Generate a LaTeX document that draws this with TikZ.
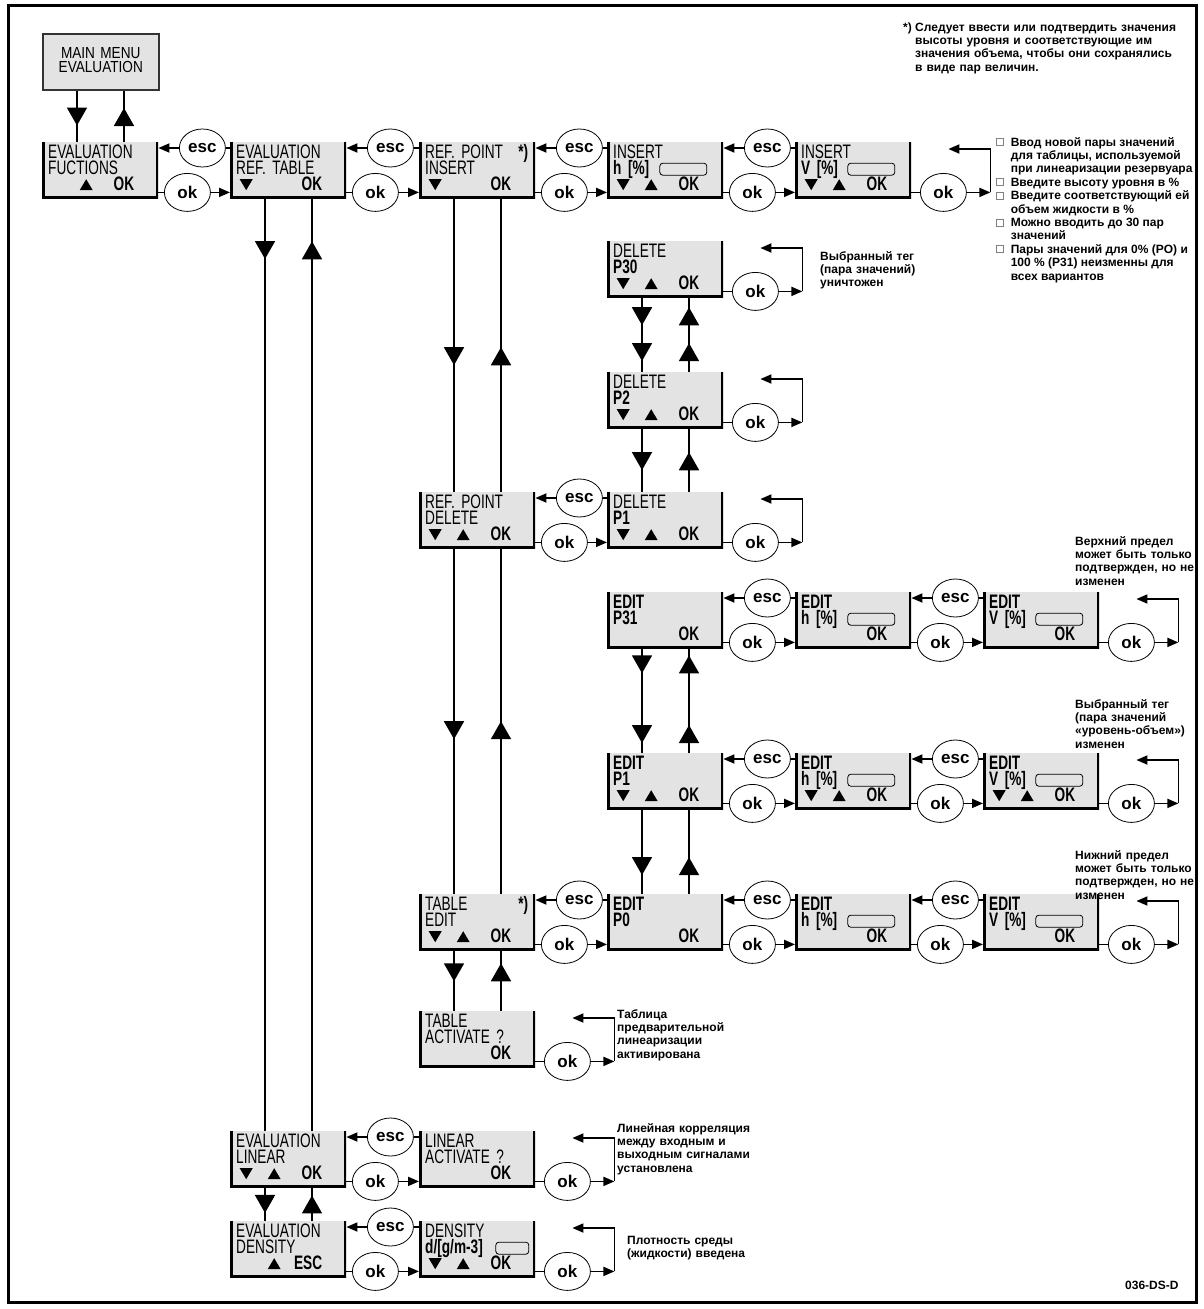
\documentclass[tikz,border=0pt]{standalone}
\usepackage{fontspec}
\setmainfont{Liberation Sans}
\newfontfamily\lcdfamily[FakeStretch=0.7]{Liberation Sans}
\newfontfamily\menufamily[FakeStretch=0.85]{Liberation Sans}
\usetikzlibrary{arrows.meta,calc,positioning,shapes.geometric,decorations.markings}
\definecolor{lcdgray}{gray}{0.89}

% keys and input field shown in the display boxes
\newcommand\keydn{\tikz[baseline=0pt]\fill (0pt,11pt) -- (13pt,11pt) -- (6.5pt,0pt) -- cycle;}
\newcommand\keyup{\tikz[baseline=0pt]\fill (0pt,0pt) -- (13pt,0pt) -- (6.5pt,11pt) -- cycle;}
\newcommand\bothkeys{\hspace*{3.5pt}\keydn\hspace{15pt}\keyup}
\newcommand\onlyup{\hspace*{31.5pt}\keyup}
\newcommand\onlydn{\hspace*{3.5pt}\keydn}
\newcommand\keyline[2]{\makebox[86pt][l]{#1\hfill\textbf{#2}}}
\newcommand\inputfield[1][47pt]{\tikz[baseline=0pt]\draw[line width=0.8pt,rounded corners=3pt] (0pt,-1pt) rectangle (#1,11pt);}
\newcommand\fieldline[1]{\makebox[94pt][l]{\textbf{#1}\hfill\inputfield}}
\newcommand\starline[1]{\makebox[103pt][l]{#1\hfill\textbf{*)}}}
\newcommand\sqbullet{\tikz[baseline=-0.5pt]\draw[gray,line width=0.6pt] (0pt,0pt) rectangle (7pt,7pt);}

\begin{document}
\begin{tikzpicture}[x=1pt,y=-1pt,
  lcd/.style={anchor=north west, fill=lcdgray, text width=104pt, inner xsep=6pt, inner ysep=0pt,
    text height=16pt, text depth=40pt, align=left,
    font={\lcdfamily\fontsize{19.5pt}{16pt}\selectfont\lineskiplimit=-50pt},
    path picture={\draw[line width=5pt] (path picture bounding box.north west) -- (path picture bounding box.south west)
      -- (path picture bounding box.south east) -- (path picture bounding box.north east);}},
  btn/.style={ellipse, draw, line width=0.8pt, fill=white, minimum width=46pt, minimum height=38pt,
    inner sep=0pt, font={\bfseries\fontsize{17pt}{17pt}\selectfont}},
  conn/.style={line width=1.8pt},
  flow/.style={conn, -{Triangle[length=11pt,width=9pt]}},
  tri/.style={postaction={decorate, decoration={markings,
    mark=at position #1 with {\arrow{Triangle[length=18pt,width=20pt]}}}}},
  note/.style={anchor=base west, align=left, text width=200pt, inner sep=0pt,
    font={\bfseries\fontsize{12pt}{13.4pt}\selectfont}}]
  \useasboundingbox (0,0) rectangle (1203,1309);
  % frame
  \draw[line width=3pt] (8,5) rectangle (1196.5,1302);

  % main menu
  \node[draw=black!80, line width=1.5pt, fill=lcdgray, anchor=north west, text width=104pt,
    inner xsep=6pt, inner ysep=0pt, text height=24.5pt, text depth=31.5pt, align=center,
    font={\menufamily\fontsize{16pt}{14pt}\selectfont}] (mainmenu) at (42,33) {MAIN MENU\\EVALUATION};

  % first row
  \node[lcd] (funcs) at (42,142) {EVALUATION\\FUCTIONS\\\keyline{\onlyup}{OK}};
  \node[lcd] (reftab) at (230,142) {EVALUATION\\REF. TABLE\\\keyline{\onlydn}{OK}};
  \node[lcd] (rpins) at (419,142) {\starline{REF. POINT}\\INSERT\\\keyline{\onlydn}{OK}};
  \node[lcd] (insh) at (607,142) {INSERT\\\fieldline{h [\%]}\\\keyline{\bothkeys}{OK}};
  \node[lcd] (insv) at (795,142) {INSERT\\\fieldline{V [\%]}\\\keyline{\bothkeys}{OK}};

  % delete column
  \node[lcd] (del30) at (607,241) {DELETE\\\textbf{P30}\\\keyline{\bothkeys}{OK}};
  \node[lcd] (del2) at (607,372) {DELETE\\\textbf{P2}\\\keyline{\bothkeys}{OK}};
  \node[lcd] (rpdel) at (419,492) {REF. POINT\\DELETE\\\keyline{\bothkeys}{OK}};
  \node[lcd] (del1) at (607,492) {DELETE\\\textbf{P1}\\\keyline{\bothkeys}{OK}};

  % edit rows
  \node[lcd] (ed31) at (607,592) {\textbf{EDIT}\\\textbf{P31}\\\keyline{}{OK}};
  \node[lcd] (ed31h) at (795,592) {\textbf{EDIT}\\\fieldline{h [\%]}\\\keyline{}{OK}};
  \node[lcd] (ed31v) at (983,592) {\textbf{EDIT}\\\fieldline{V [\%]}\\\keyline{}{OK}};
  \node[lcd] (ed1) at (607,753) {\textbf{EDIT}\\\textbf{P1}\\\keyline{\bothkeys}{OK}};
  \node[lcd] (ed1h) at (795,753) {\textbf{EDIT}\\\fieldline{h [\%]}\\\keyline{\bothkeys}{OK}};
  \node[lcd] (ed1v) at (983,753) {\textbf{EDIT}\\\fieldline{V [\%]}\\\keyline{\bothkeys}{OK}};
  \node[lcd] (tabed) at (419,894) {\starline{TABLE}\\EDIT\\\keyline{\bothkeys}{OK}};
  \node[lcd] (ed0) at (607,894) {\textbf{EDIT}\\\textbf{P0}\\\keyline{}{OK}};
  \node[lcd] (ed0h) at (795,894) {\textbf{EDIT}\\\fieldline{h [\%]}\\\keyline{}{OK}};
  \node[lcd] (ed0v) at (983,894) {\textbf{EDIT}\\\fieldline{V [\%]}\\\keyline{}{OK}};
  \node[lcd] (tabact) at (419,1011) {TABLE\\ACTIVATE ?\\\keyline{}{OK}};

  % linear and density
  \node[lcd] (evlin) at (230,1131) {EVALUATION\\LINEAR\\\keyline{\bothkeys}{OK}};
  \node[lcd] (linact) at (419,1131) {LINEAR\\ACTIVATE ?\\\keyline{}{OK}};
  \node[lcd] (evden) at (230,1221) {EVALUATION\\DENSITY\\\keyline{\onlyup}{ESC}};
  \node[lcd] (den) at (419,1221) {DENSITY\\\makebox[104pt][l]{\textbf{d/[g/m-3]}\hfill\inputfield[33pt]}\\\keyline{\bothkeys}{OK}};

  % esc and ok between neighbours
  \foreach \src/\dst in {funcs/reftab, reftab/rpins, rpins/insh, insh/insv, rpdel/del1,
      ed31/ed31h, ed31h/ed31v, ed1/ed1h, ed1h/ed1v, tabed/ed0, ed0/ed0h, ed0h/ed0v,
      evlin/linact, evden/den} {
    \node[btn] (esc-\dst) at ([xshift=44pt,yshift=-6pt]\src.north east) {esc};
    \node[btn] (okto-\dst) at ([xshift=29pt,yshift=6pt]\src.south east) {ok};
    \draw[flow] (esc-\dst.west) -- (esc-\dst.west -| \src.east);
    \draw[conn] (esc-\dst.east) -- (esc-\dst.east -| \dst.west);
    \draw[conn] (okto-\dst.west -| \src.east) -- (okto-\dst.west);
    \draw[flow] (okto-\dst.east) -- (okto-\dst.east -| \dst.west);
  }

  % ok loops that confirm a value
  \foreach \src in {insv, del30, del2, del1, ed31v, ed1v, ed0v, tabact, linact, den} {
    \node[btn] (okloop-\src) at ([xshift=32pt,yshift=6pt]\src.south east) {ok};
    \coordinate (turn-\src) at ([xshift=79pt,yshift=-7pt]\src.north east);
    \coordinate (back-\src) at ([xshift=37pt,yshift=-7pt]\src.north east);
    \draw[conn] (\src.east |- okloop-\src.west) -- (okloop-\src.west);
    \draw[flow] (okloop-\src.east) -- (okloop-\src.east -| turn-\src);
    \draw[flow] (okloop-\src.east -| turn-\src) -- (turn-\src) -- (back-\src);
  }

  % up and down between menu levels
  \foreach \src/\dst/\p/\q in {mainmenu/funcs/0.68/0.66, reftab/evlin/0.065/0.954,
      evlin/evden/0.76/0.76, rpins/rpdel/0.568/0.493, rpdel/tabed/0.552/0.5,
      tabed/tabact/0.51/0.787, del2/del1/0.656/0.625, ed1/ed0/0.776/0.435} {
    \draw[conn, tri=\p] ([xshift=35pt]\src.south west) -- ([xshift=35pt]\dst.north west);
    \draw[conn, tri=\q] ([xshift=82pt]\dst.north west) -- ([xshift=82pt]\src.south west);
  }
  \draw[conn, tri=0.373, tri=0.853] ([xshift=35pt]del30.south west) -- ([xshift=35pt]del2.north west);
  \draw[conn, tri=0.387, tri=0.867] ([xshift=82pt]del2.north west) -- ([xshift=82pt]del30.south west);
  \draw[conn, tri=0.238, tri=0.905] ([xshift=35pt]ed31.south west) -- ([xshift=35pt]ed1.north west);
  \draw[conn, tri=0.267, tri=0.933] ([xshift=82pt]ed1.north west) -- ([xshift=82pt]ed31.south west);

  % notes
  \node[note, text width=12pt] (fnmark) at (903,31) {*)};
  \node[note, text width=280pt] (fntext) at (915,31) {Следует ввести или подтвердить значения\\
    высоты уровня и соответствующие им\\значения объема, чтобы они сохранялись\\в виде пар величин.};
  \node[anchor=base west, inner sep=0pt, font={\bfseries\fontsize{12pt}{13.4pt}\selectfont}] (insnote) at (996,146)
    {\begin{tabular}[t]{@{}l@{\hspace{7pt}}l@{}}
      \sqbullet & Ввод новой пары значений\\
       & для таблицы, используемой\\
       & при линеаризации резервуара\\
      \sqbullet & Введите высоту уровня в \%\\
      \sqbullet & Введите соответствующий ей\\
       & объем жидкости в \%\\
      \sqbullet & Можно вводить до 30 пар\\
       & значений\\
      \sqbullet & Пары значений для 0\% (PO) и\\
       & 100 \% (P31) неизменны для\\
       & всех вариантов
    \end{tabular}};
  \node[note] (delnote) at (820,260) {Выбранный тег\\(пара значений)\\уничтожен};
  \node[note] (topnote) at (1075,545) {Верхний предел\\может быть только\\подтвержден, но не\\изменен};
  \node[note] (editnote) at (1075,708) {Выбранный тег\\(пара значений\\«уровень-объем»)\\изменен};
  \node[note] (lownote) at (1075,859) {Нижний предел\\может быть только\\подтвержден, но не\\изменен};
  \node[note] (tabnote) at (617,1018) {Таблица\\предварительной\\линеаризации\\активирована};
  \node[note] (linnote) at (617,1132) {Линейная корреляция\\между входным и\\выходным сигналами\\установлена};
  \node[note] (dennote) at (627,1244) {Плотность среды\\(жидкости) введена};
  \node[note] (code) at (1125,1289) {036-DS-D};
\end{tikzpicture}
\end{document}
